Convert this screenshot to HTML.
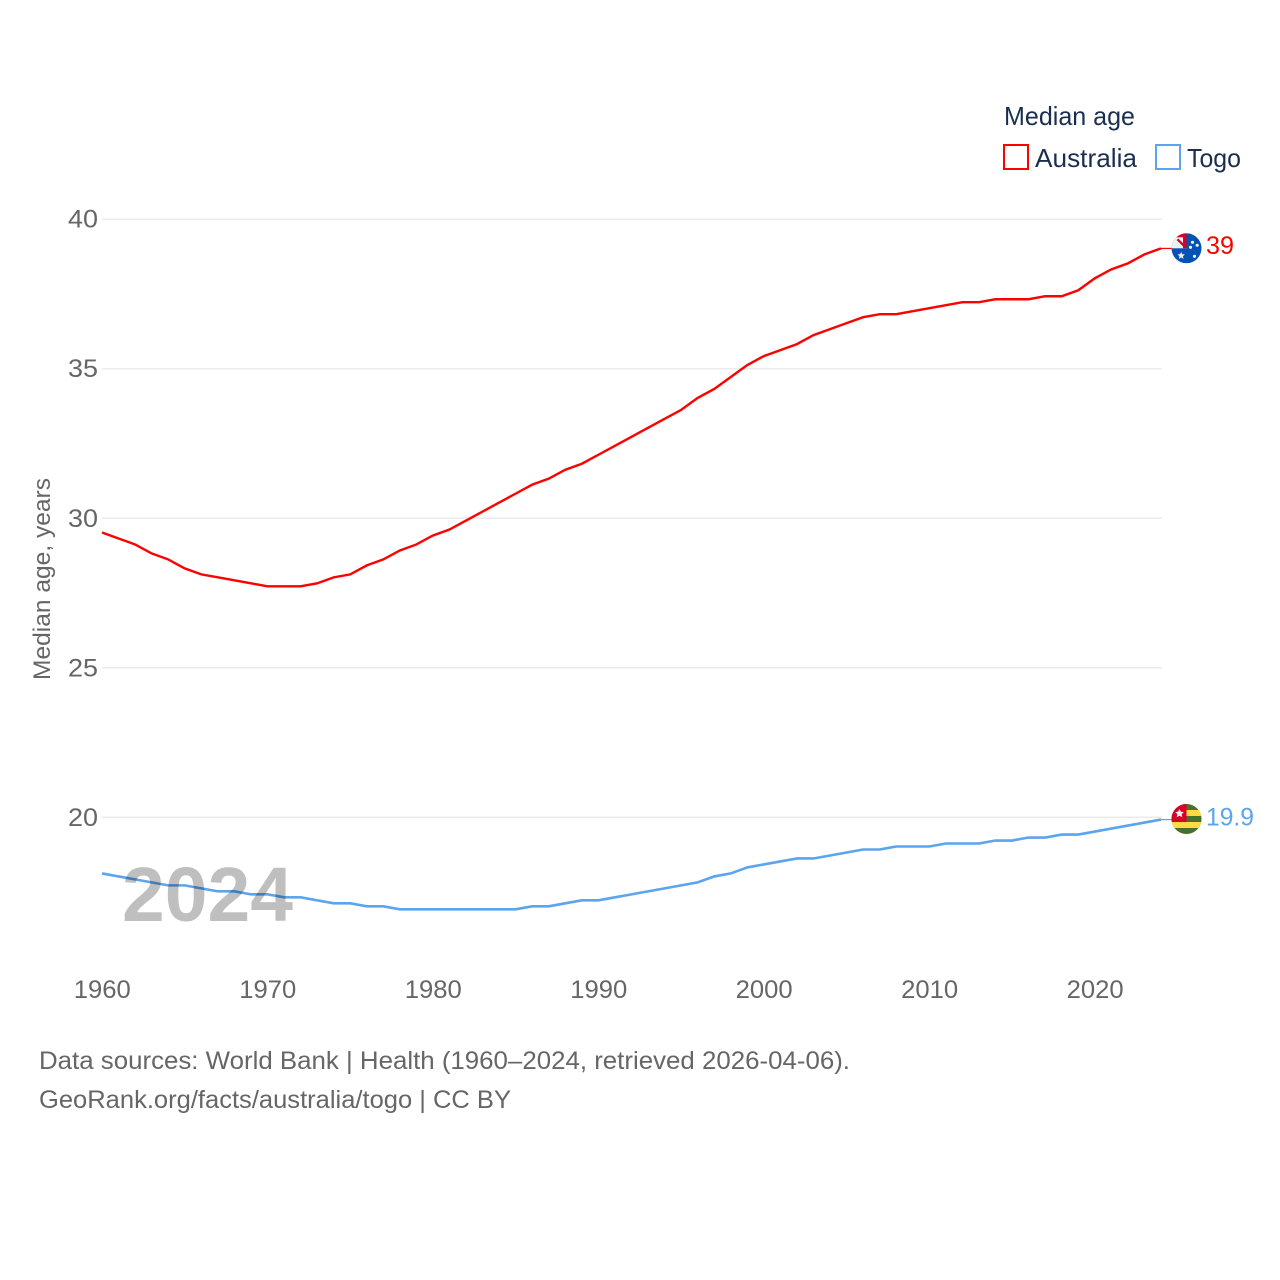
<!DOCTYPE html>
<html lang="en">
<head>
<meta charset="utf-8">
<title>Median age: Australia and Togo</title>
<style>
html,body{margin:0;padding:0;background:#fff;}
svg{display:block;}
text{font-family:"Liberation Sans",sans-serif;}
.tick{font-size:25px;fill:#666;}
.foot{font-size:25px;fill:#666;}
.leg{font-size:26px;fill:#1a2f50;}
</style>
</head>
<body>
<svg id="chart" width="1280" height="1280" viewBox="0 0 1280 1280" xmlns="http://www.w3.org/2000/svg">
  <defs>
    <clipPath id="flag-clip"><circle cx="0" cy="0" r="15"/></clipPath>
  </defs>
  <rect width="1280" height="1280" fill="#fff"/>
  <g id="grid"></g>
  <g id="y-ticks"></g>
  <g id="x-ticks"></g>
  <text x="0" y="0" font-size="24" fill="#666" transform="translate(50,680) rotate(-90)" textLength="202" lengthAdjust="spacingAndGlyphs">Median age, years</text>
  <g id="series"></g>
  <text x="122" y="921" font-size="77" font-weight="700" fill="#000" fill-opacity="0.25" textLength="171" lengthAdjust="spacingAndGlyphs">2024</text>

  <g id="flag-australia">
    <g clip-path="url(#flag-clip)">
      <rect x="-15" y="-15" width="30" height="30" fill="#0052b4"/>
      <rect x="-15" y="-15" width="15" height="15" fill="#eee"/>
      <rect x="-15" y="-15" width="15" height="4" fill="#d80027"/>
      <rect x="-3.5" y="-15" width="3.5" height="15" fill="#d80027"/>
      <path d="M-9,-9 L-1,-1" stroke="#d80027" stroke-width="2.2"/>
      <polygon points="-5.3,3.5 -4.2,6 -1.5,6 -3.6,7.9 -2.9,10.6 -5.3,9.2 -7.7,10.6 -7,7.9 -9.1,6 -6.4,6" fill="#eee"/>
      <circle cx="4" cy="-1" r="1.6" fill="#eee"/>
      <circle cx="6" cy="-6" r="1.6" fill="#eee"/>
      <circle cx="10.7" cy="-3" r="1.6" fill="#eee"/>
      <circle cx="8" cy="8" r="1.6" fill="#eee"/>
    </g>
  </g>
  <g id="flag-togo">
    <g clip-path="url(#flag-clip)">
      <rect x="-15" y="-15" width="30" height="30" fill="#496e2d"/>
      <rect x="-15" y="-9" width="30" height="6" fill="#ffda44"/>
      <rect x="-15" y="3" width="30" height="6" fill="#ffda44"/>
      <rect x="-15" y="-15" width="15" height="18" fill="#d80027"/>
      <polygon points="-7,-10 -5.6,-7.2 -2.6,-7 -4.8,-4.9 -4.2,-1.8 -7,-3.3 -9.8,-1.8 -9.2,-4.9 -11.4,-7 -8.4,-7.2" fill="#eee"/>
    </g>
  </g>
  <text id="label-australia" x="1206" y="254" font-size="25" fill="#ff0000" textLength="28" lengthAdjust="spacingAndGlyphs"></text>
  <text id="label-togo" x="1206" y="825" font-size="25" fill="#5ba4ee" textLength="48" lengthAdjust="spacingAndGlyphs"></text>

  <g>
    <text class="leg" x="1004" y="125" textLength="131" lengthAdjust="spacingAndGlyphs">Median age</text>
    <rect x="1004" y="145" width="24" height="24" fill="#fff" stroke="#ff0000" stroke-width="2"/>
    <text class="leg" x="1035" y="167" textLength="102" lengthAdjust="spacingAndGlyphs">Australia</text>
    <rect x="1156" y="145" width="24" height="24" fill="#fff" stroke="#5ba4ee" stroke-width="2"/>
    <text class="leg" x="1187" y="167" textLength="54" lengthAdjust="spacingAndGlyphs">Togo</text>
  </g>

  <text class="foot" x="39" y="1069" textLength="811" lengthAdjust="spacingAndGlyphs">Data sources: World Bank | Health (1960–2024, retrieved 2026-04-06).</text>
  <text class="foot" x="39" y="1108" textLength="472" lengthAdjust="spacingAndGlyphs">GeoRank.org/facts/australia/togo | CC BY</text>
</svg>
<script>
const years = [1960,1961,1962,1963,1964,1965,1966,1967,1968,1969,1970,1971,1972,1973,1974,1975,1976,1977,1978,1979,1980,1981,1982,1983,1984,1985,1986,1987,1988,1989,1990,1991,1992,1993,1994,1995,1996,1997,1998,1999,2000,2001,2002,2003,2004,2005,2006,2007,2008,2009,2010,2011,2012,2013,2014,2015,2016,2017,2018,2019,2020,2021,2022,2023,2024];
const australia = [29.5,29.3,29.1,28.8,28.6,28.3,28.1,28.0,27.9,27.8,27.7,27.7,27.7,27.8,28.0,28.1,28.4,28.6,28.9,29.1,29.4,29.6,29.9,30.2,30.5,30.8,31.1,31.3,31.6,31.8,32.1,32.4,32.7,33.0,33.3,33.6,34.0,34.3,34.7,35.1,35.4,35.6,35.8,36.1,36.3,36.5,36.7,36.8,36.8,36.9,37.0,37.1,37.2,37.2,37.3,37.3,37.3,37.4,37.4,37.6,38.0,38.3,38.5,38.8,39.0];
const togo = [18.1,18.0,17.9,17.8,17.7,17.7,17.6,17.5,17.5,17.4,17.4,17.3,17.3,17.2,17.1,17.1,17.0,17.0,16.9,16.9,16.9,16.9,16.9,16.9,16.9,16.9,17.0,17.0,17.1,17.2,17.2,17.3,17.4,17.5,17.6,17.7,17.8,18.0,18.1,18.3,18.4,18.5,18.6,18.6,18.7,18.8,18.9,18.9,19.0,19.0,19.0,19.1,19.1,19.1,19.2,19.2,19.3,19.3,19.4,19.4,19.5,19.6,19.7,19.8,19.9];
const yTickValues = [20,25,30,35,40];
const xTickValues = [1960,1970,1980,1990,2000,2010,2020];

const NS = 'http://www.w3.org/2000/svg';
function xScale(year){ return 102 + (year - 1960) * (1161 - 102) / 64; }
function yScale(v){ return 817.3 - (v - 20) * (817.3 - 219.2) / 20; }
const LINE_SHIFT = -0.7;

const grid = document.getElementById('grid');
const yTicks = document.getElementById('y-ticks');
yTickValues.forEach(function(v){
  const l = document.createElementNS(NS, 'line');
  
  
  l.setAttribute('x1', 102);
  l.setAttribute('x2', 1162);
  l.setAttribute('y1', yScale(v));
  l.setAttribute('y2', yScale(v));
  l.setAttribute('stroke', '#ebebeb');
  l.setAttribute('stroke-width', '1.5');
  grid.appendChild(l);
  const t = document.createElementNS(NS, 'text');
  
  
  t.setAttribute('class', 'tick');
  t.setAttribute('x', 98);
  t.setAttribute('y', yScale(v) + 8.5);
  t.setAttribute('text-anchor', 'end');
  t.setAttribute('textLength', '30');
  t.setAttribute('lengthAdjust', 'spacingAndGlyphs');
  t.textContent = v;
  yTicks.appendChild(t);
});

const xTicks = document.getElementById('x-ticks');
xTickValues.forEach(function(y){
  const t = document.createElementNS(NS, 'text');
  
  
  t.setAttribute('class', 'tick');
  t.setAttribute('x', xScale(y) - 28.2);
  t.setAttribute('y', 998);
  t.setAttribute('textLength', '57');
  t.setAttribute('lengthAdjust', 'spacingAndGlyphs');
  t.textContent = y;
  xTicks.appendChild(t);
});

function linePoints(values){
  return values.map(function(v, i){ return xScale(years[i]).toFixed(2) + ',' + (yScale(v) + LINE_SHIFT).toFixed(2); }).join(' ');
}
const seriesGroup = document.getElementById('series');

const ausLine = document.createElementNS(NS, 'polyline');


ausLine.setAttribute('points', linePoints(australia));
ausLine.setAttribute('fill', 'none');
ausLine.setAttribute('stroke', '#ff0000');
ausLine.setAttribute('stroke-width', '2.4');
seriesGroup.appendChild(ausLine);

const togoLine = document.createElementNS(NS, 'polyline');


togoLine.setAttribute('points', linePoints(togo));
togoLine.setAttribute('fill', 'none');
togoLine.setAttribute('stroke', '#5ba4ee');
togoLine.setAttribute('stroke-width', '2.6');
seriesGroup.appendChild(togoLine);

const ausLast = australia[australia.length - 1];
const togoLast = togo[togo.length - 1];

const ausLeader = document.createElementNS(NS, 'line');


ausLeader.setAttribute('x1', xScale(2024));
ausLeader.setAttribute('x2', 1172);
ausLeader.setAttribute('y1', yScale(ausLast) + LINE_SHIFT);
ausLeader.setAttribute('y2', yScale(ausLast) + LINE_SHIFT);
ausLeader.setAttribute('stroke', '#ff0000');
ausLeader.setAttribute('stroke-width', '1.2');
seriesGroup.appendChild(ausLeader);

const togoLeader = document.createElementNS(NS, 'line');


togoLeader.setAttribute('x1', xScale(2024));
togoLeader.setAttribute('x2', 1172);
togoLeader.setAttribute('y1', yScale(togoLast) + LINE_SHIFT);
togoLeader.setAttribute('y2', yScale(togoLast) + LINE_SHIFT);
togoLeader.setAttribute('stroke', '#5ba4ee');
togoLeader.setAttribute('stroke-width', '1.2');
seriesGroup.appendChild(togoLeader);

document.getElementById('flag-australia').setAttribute('transform', 'translate(1186.5,' + (yScale(ausLast) - 0.8) + ')');
document.getElementById('flag-togo').setAttribute('transform', 'translate(1186.5,' + (yScale(togoLast) - 1.3) + ')');

const ausLabel = document.getElementById('label-australia');
ausLabel.setAttribute('y', yScale(ausLast) + 5);
ausLabel.textContent = ausLast;
const togoLabel = document.getElementById('label-togo');
togoLabel.setAttribute('y', yScale(togoLast) + 5);
togoLabel.textContent = togoLast;
</script>
</body>
</html>
